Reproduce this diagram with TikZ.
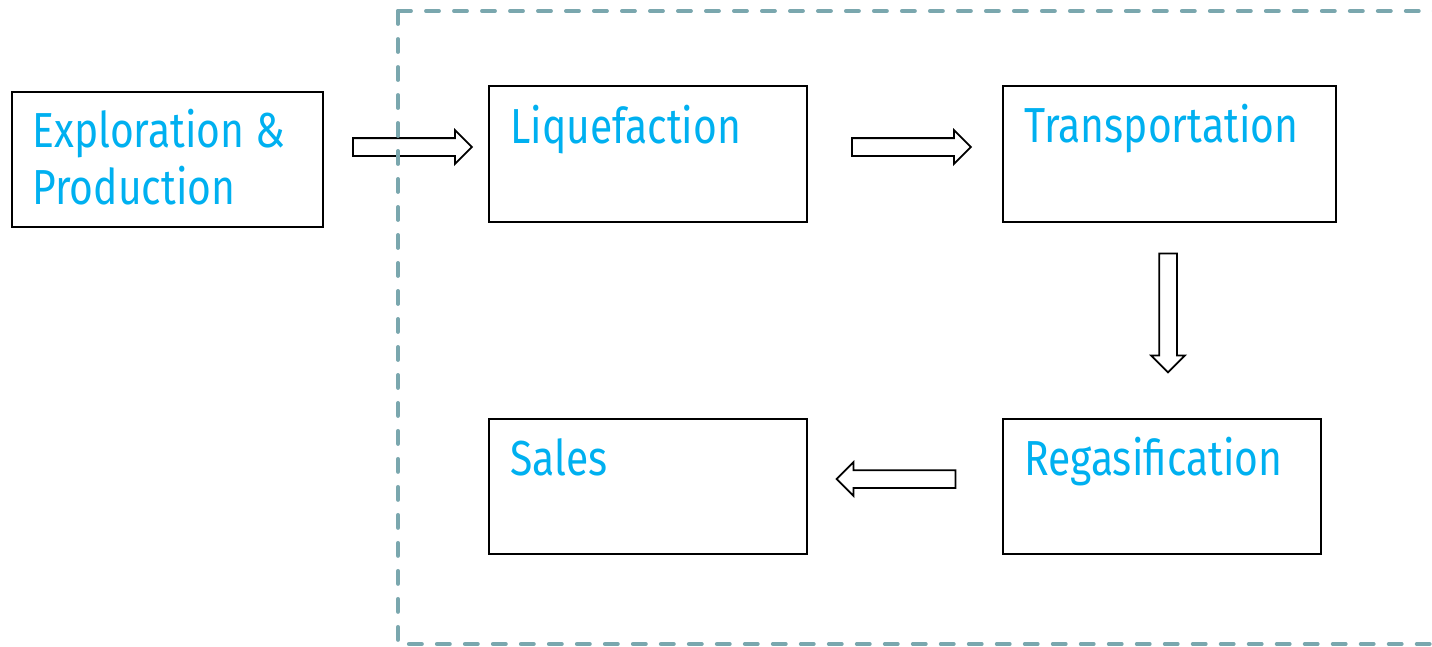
\documentclass[tikz,border=0pt]{standalone}
\usepackage{fontspec}
\setmainfont{Fira Sans}[FakeStretch=0.83]
\usetikzlibrary{shapes.arrows}
\definecolor{stagecyan}{HTML}{00B0F0}
\definecolor{framegrey}{HTML}{7AA7AE}
\begin{document}
\begin{tikzpicture}[x=0.02cm,y=-0.02cm,
        stage/.style={draw,line width=1pt,inner sep=0pt,minimum height=2.71cm},
        stagetext/.style={inner sep=0pt,align=left,anchor=base west,text=stagecyan,
            font=\fontsize{28}{32.3}\selectfont},
        flow/.style={single arrow,draw,fill=white,line width=1pt,inner sep=0.16cm,
            single arrow head extend=0.16cm,minimum height=2.38cm}]
        \useasboundingbox (0,0) rectangle (1432,646);
        % Stages
        \node[stage,minimum width=6.22cm] (ep) at (167.5,159.5) {};
        \node[stage,minimum width=6.36cm] (liq) at (648,154) {};
        \node[stage,minimum width=6.66cm] (trans) at (1169.5,154) {};
        \node[stage,minimum width=6.36cm] (regas) at (1162,486.5) {};
        \node[stage,minimum width=6.36cm] (sales) at (648,486.5) {};
        % Stage names
        \node[stagetext] (eptext) at (32,204) {Exploration \&\\Production};
        \node[stagetext] (liqtext) at (510,143) {Liquefaction};
        \node[stagetext] (transtext) at (1024,142) {Transportation};
        \node[stagetext] (regastext) at (1024,475) {Regasification};
        \node[stagetext] (salestext) at (510,475) {Sales};
        % Flow arrows
        \node[flow] (eptoliq) at (408,147) {};
        \node[flow] (liqtotrans) at (907,147) {};
        \node[flow,shape border rotate=270] (transtoregas) at (1168,308.5) {};
        \node[flow,shape border rotate=180] (regastosales) at (900.5,479) {};
        % LNG chain frame
        \begin{scope}[framegrey,line width=2.2pt,line cap=round,dash pattern=on 0.26cm off 0.3cm]
            \draw (398,11) -- (1470,11);
            \draw (398,11) -- (398,644) -- (1470,644);
        \end{scope}
    \end{tikzpicture}
\end{document}
